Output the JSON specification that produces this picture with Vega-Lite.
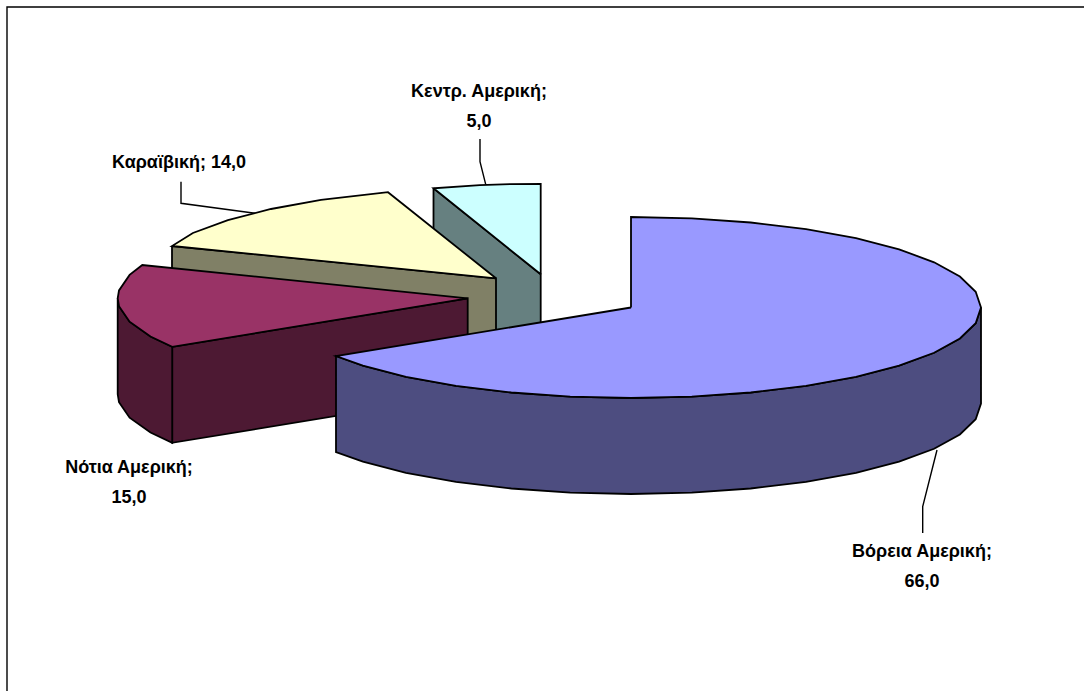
{"$schema":"https://vega.github.io/schema/vega-lite/v6.json","width":1084,"height":691,"padding":0,"autosize":"none","background":"#ffffff","view":{"stroke":null},
"datasets":{
"faces":[
{"face":"cyan side","order":1,"x":433.5,"y":188.3},{"face":"cyan side","order":2,"x":540.7,"y":274.3},{"face":"cyan side","order":3,"x":540.7,"y":370},{"face":"cyan side","order":4,"x":433.5,"y":284},{"face":"cyan side","order":5,"x":433.5,"y":188.3},
{"face":"cyan top","order":1,"x":540.7,"y":274.3},{"face":"cyan top","order":2,"x":433.5,"y":188.3},{"face":"cyan top","order":3,"x":479.9,"y":185.2},{"face":"cyan top","order":4,"x":510.2,"y":184.1},{"face":"cyan top","order":5,"x":540.7,"y":183.8},{"face":"cyan top","order":6,"x":540.7,"y":274.3},
{"face":"yellow side","order":1,"x":172,"y":246},{"face":"yellow side","order":2,"x":496,"y":278.3},{"face":"yellow side","order":3,"x":496,"y":374},{"face":"yellow side","order":4,"x":172,"y":342},{"face":"yellow side","order":5,"x":172,"y":246},
{"face":"yellow top","order":1,"x":496,"y":278.3},{"face":"yellow top","order":2,"x":172,"y":246},{"face":"yellow top","order":3,"x":192.9,"y":233},{"face":"yellow top","order":4,"x":227.9,"y":220.1},{"face":"yellow top","order":5,"x":271,"y":209},{"face":"yellow top","order":6,"x":321,"y":199.9},{"face":"yellow top","order":7,"x":388,"y":192.2},{"face":"yellow top","order":8,"x":496,"y":278.3},
{"face":"maroon front","order":1,"x":172.2,"y":346.8},{"face":"maroon front","order":2,"x":467.7,"y":298.3},{"face":"maroon front","order":3,"x":467.7,"y":394.3},{"face":"maroon front","order":4,"x":172.2,"y":442.8},{"face":"maroon front","order":5,"x":172.2,"y":346.8},
{"face":"maroon left","order":1,"x":172.2,"y":346.8},{"face":"maroon left","order":2,"x":150.5,"y":336.5},{"face":"maroon left","order":3,"x":129.6,"y":321.7},{"face":"maroon left","order":4,"x":119,"y":306.2},{"face":"maroon left","order":5,"x":117.7,"y":298.3},{"face":"maroon left","order":6,"x":117.7,"y":394.3},{"face":"maroon left","order":7,"x":119,"y":402.2},{"face":"maroon left","order":8,"x":129.6,"y":417.7},{"face":"maroon left","order":9,"x":150.5,"y":432.5},{"face":"maroon left","order":10,"x":172.2,"y":442.8},{"face":"maroon left","order":11,"x":172.2,"y":346.8},
{"face":"maroon top","order":1,"x":467.7,"y":298.3},{"face":"maroon top","order":2,"x":172.2,"y":346.8},{"face":"maroon top","order":3,"x":150.5,"y":336.5},{"face":"maroon top","order":4,"x":129.6,"y":321.7},{"face":"maroon top","order":5,"x":119,"y":306.2},{"face":"maroon top","order":6,"x":117.7,"y":298.3},{"face":"maroon top","order":7,"x":119,"y":290.4},{"face":"maroon top","order":8,"x":129.6,"y":274.9},{"face":"maroon top","order":9,"x":142.3,"y":265},{"face":"maroon top","order":10,"x":467.7,"y":298.3},
{"face":"blue side","order":1,"x":981,"y":307.5},{"face":"blue side","order":2,"x":975.7,"y":323.2},{"face":"blue side","order":3,"x":959.9,"y":338.5},{"face":"blue side","order":4,"x":934.1,"y":352.8},{"face":"blue side","order":5,"x":899.1,"y":365.7},{"face":"blue side","order":6,"x":856,"y":376.8},{"face":"blue side","order":7,"x":806,"y":385.9},{"face":"blue side","order":8,"x":750.7,"y":392.5},{"face":"blue side","order":9,"x":691.8,"y":396.6},{"face":"blue side","order":10,"x":631,"y":398},{"face":"blue side","order":11,"x":570.2,"y":396.6},{"face":"blue side","order":12,"x":511.3,"y":392.5},{"face":"blue side","order":13,"x":456,"y":385.9},{"face":"blue side","order":14,"x":406,"y":376.8},{"face":"blue side","order":15,"x":362.9,"y":365.7},{"face":"blue side","order":16,"x":336,"y":356},
{"face":"blue side","order":17,"x":336,"y":452},{"face":"blue side","order":18,"x":362.9,"y":461.7},{"face":"blue side","order":19,"x":406,"y":472.8},{"face":"blue side","order":20,"x":456,"y":481.9},{"face":"blue side","order":21,"x":511.3,"y":488.5},{"face":"blue side","order":22,"x":570.2,"y":492.6},{"face":"blue side","order":23,"x":631,"y":494},{"face":"blue side","order":24,"x":691.8,"y":492.6},{"face":"blue side","order":25,"x":750.7,"y":488.5},{"face":"blue side","order":26,"x":806,"y":481.9},{"face":"blue side","order":27,"x":856,"y":472.8},{"face":"blue side","order":28,"x":899.1,"y":461.7},{"face":"blue side","order":29,"x":934.1,"y":448.8},{"face":"blue side","order":30,"x":959.9,"y":434.5},{"face":"blue side","order":31,"x":975.7,"y":419.2},{"face":"blue side","order":32,"x":981,"y":403.5},{"face":"blue side","order":33,"x":981,"y":307.5},
{"face":"blue top","order":1,"x":631,"y":307.5},{"face":"blue top","order":2,"x":631,"y":217},{"face":"blue top","order":3,"x":691.8,"y":218.4},{"face":"blue top","order":4,"x":750.7,"y":222.5},{"face":"blue top","order":5,"x":806,"y":229.1},{"face":"blue top","order":6,"x":856,"y":238.2},{"face":"blue top","order":7,"x":899.1,"y":249.3},{"face":"blue top","order":8,"x":934.1,"y":262.3},{"face":"blue top","order":9,"x":959.9,"y":276.5},{"face":"blue top","order":10,"x":975.7,"y":291.8},{"face":"blue top","order":11,"x":981,"y":307.5},{"face":"blue top","order":12,"x":975.7,"y":323.2},{"face":"blue top","order":13,"x":959.9,"y":338.5},{"face":"blue top","order":14,"x":934.1,"y":352.8},{"face":"blue top","order":15,"x":899.1,"y":365.7},{"face":"blue top","order":16,"x":856,"y":376.8},{"face":"blue top","order":17,"x":806,"y":385.9},{"face":"blue top","order":18,"x":750.7,"y":392.5},{"face":"blue top","order":19,"x":691.8,"y":396.6},{"face":"blue top","order":20,"x":631,"y":398},{"face":"blue top","order":21,"x":570.2,"y":396.6},{"face":"blue top","order":22,"x":511.3,"y":392.5},{"face":"blue top","order":23,"x":456,"y":385.9},{"face":"blue top","order":24,"x":406,"y":376.8},{"face":"blue top","order":25,"x":362.9,"y":365.7},{"face":"blue top","order":26,"x":336,"y":356},{"face":"blue top","order":27,"x":631,"y":307.5}
],
"lines":[
{"id":"frame","order":1,"x":1084,"y":7},{"id":"frame","order":2,"x":7,"y":7},{"id":"frame","order":3,"x":7,"y":691},
{"id":"Καραϊβική","order":1,"x":181,"y":181.7},{"id":"Καραϊβική","order":2,"x":181,"y":203.3},{"id":"Καραϊβική","order":3,"x":255,"y":213.3},
{"id":"Κεντρ. Αμερική","order":1,"x":480,"y":139},{"id":"Κεντρ. Αμερική","order":2,"x":480,"y":161.7},{"id":"Κεντρ. Αμερική","order":3,"x":485.7,"y":184.3},
{"id":"Βόρεια Αμερική","order":1,"x":937,"y":450},{"id":"Βόρεια Αμερική","order":2,"x":922.7,"y":506.7},{"id":"Βόρεια Αμερική","order":3,"x":922.7,"y":533}
],
"labels":[
{"label":"Βόρεια Αμερική;","x":922,"y":552},{"label":"66,0","x":922,"y":582},
{"label":"Νότια Αμερική;","x":129,"y":468},{"label":"15,0","x":129,"y":498},
{"label":"Καραϊβική; 14,0","x":179,"y":163},
{"label":"Κεντρ. Αμερική;","x":479,"y":92},{"label":"5,0","x":479,"y":122}
]},
"layer":[
{"data":{"name":"faces"},"mark":{"type":"line","stroke":"#000000","strokeWidth":1.8,"strokeJoin":"miter","clip":false},
"encoding":{"x":{"field":"x","type":"quantitative","scale":{"domain":[0,1084],"nice":false,"zero":false},"axis":null},"y":{"field":"y","type":"quantitative","scale":{"domain":[0,691],"reverse":true,"nice":false,"zero":false},"axis":null},"order":{"field":"order","type":"quantitative"},"detail":{"field":"face"},
"fill":{"field":"face","type":"nominal","legend":null,"scale":{"domain":["cyan side","cyan top","yellow side","yellow top","maroon front","maroon left","maroon top","blue side","blue top"],"range":["#668080","#CCFFFF","#808066","#FFFFCC","#4D1933","#4D1933","#993366","#4D4D80","#9999FF"]}}}},
{"data":{"name":"lines"},"mark":{"type":"line","stroke":"#000000","strokeWidth":1.4},"encoding":{"x":{"field":"x","type":"quantitative"},"y":{"field":"y","type":"quantitative"},"order":{"field":"order","type":"quantitative"},"detail":{"field":"id"},"strokeWidth":{"condition":{"test":"datum.id==='frame'","value":2.6},"value":1.4}}},
{"data":{"name":"labels"},"mark":{"type":"text","font":"Liberation Sans","fontWeight":"bold","fontSize":18,"align":"center","baseline":"middle","color":"#000000"},"encoding":{"x":{"field":"x","type":"quantitative"},"y":{"field":"y","type":"quantitative"},"text":{"field":"label"}}}
]}
